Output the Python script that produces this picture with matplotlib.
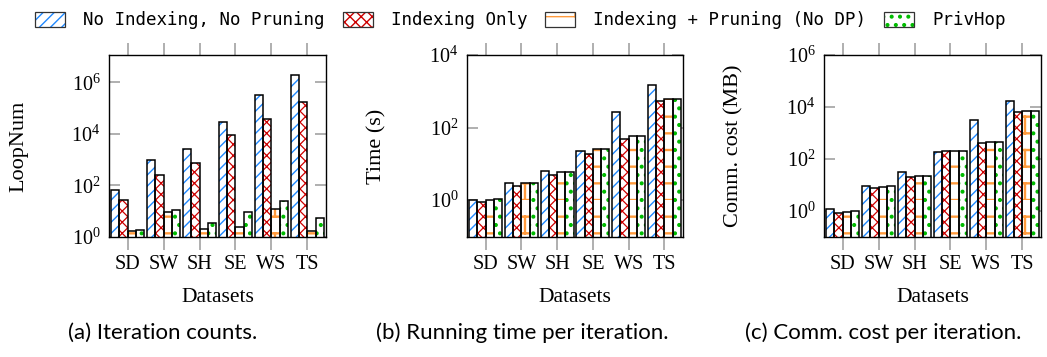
import matplotlib
matplotlib.use("Agg")
import matplotlib.pyplot as plt
import matplotlib.hatch as mhatch
from matplotlib.path import Path
from matplotlib.patches import Patch
from matplotlib.legend_handler import HandlerTuple
import numpy as np

datasets = ["SD", "SW", "SH", "SE", "WS", "TS"]
series = ["No Indexing, No Pruning", "Indexing Only", "Indexing + Pruning (No DP)", "PrivHop"]

loopnum_noidx = [64, 930, 2630, 29000, 3.1e5, 2.0e6]
loopnum_idx = [27, 258, 755, 9400, 37000, 1.78e5]
loopnum_prune = [1.76, 9.3, 2.0, 2.5, 12, 1.7]
loopnum_privhop = [1.87, 11, 3.4, 9.0, 26, 5.4]

time_noidx = [0.98, 2.87, 6.2, 21.8, 264, 1520]
time_idx = [0.86, 2.43, 4.77, 18.5, 47.7, 529]
time_prune = [1.02, 2.87, 5.8, 25.3, 56.6, 625]
time_privhop = [1.04, 2.87, 5.8, 25.3, 56.6, 625]

comm_noidx = [1.16, 8.9, 30.6, 181, 3170, 17000]
comm_idx = [0.79, 7.4, 19.7, 196, 400, 6400]
comm_prune = [0.86, 8.4, 21.6, 203, 464, 7200]
comm_privhop = [0.94, 8.9, 21.6, 203, 464, 7200]

colors = ["#1E88FF", "#CC0000", "#FF9A3C", "#00BB00"]
hatches = ["///", "xxx", "+", ".."]
hatch_lw = [1.0, 0.9, 1.7, 1.0]


# ---- custom hatch patterns: bricks (for '+') and larger dots (for '.') ----
class BrickHatch(mhatch.HatchPatternBase):
    def __init__(self, hatch, density):
        self.num_rows = hatch.count('+') * density
        self.num_vertices = self.num_rows * 4 if self.num_rows else 0

    def set_vertices_and_codes(self, vertices, codes):
        n = self.num_rows
        h = 1.0 / n
        v = []
        for k in range(n):
            y = k * h
            v += [(0.0, y), (1.0, y)]
            xo = 0.25 if k % 2 == 0 else 0.75
            v += [(xo, y), (xo, y + h)]
        vertices[:] = np.array(v)
        codes[0::2] = Path.MOVETO
        codes[1::2] = Path.LINETO


class BigDots(mhatch.Circles):
    size = 0.16
    filled = True

    def __init__(self, hatch, density):
        self.num_rows = hatch.count('.') * density
        super().__init__(hatch, density)


mhatch._hatch_types = [mhatch.NorthEastHatch, mhatch.SouthEastHatch,
                       BrickHatch, BigDots]

plt.rcParams["font.family"] = "Liberation Serif"
plt.rcParams["mathtext.fontset"] = "custom"
plt.rcParams["mathtext.rm"] = "Liberation Serif"
plt.rcParams["mathtext.it"] = "Liberation Serif:italic"

fig = plt.figure(figsize=(10.47, 3.57), dpi=100)

W = 1047.0
H = 357.0
def axrect(l, r, t, b):
    return [l / W, 1 - b / H, (r - l) / W, (b - t) / H]

ax_a = fig.add_axes(axrect(109, 326, 55, 237))
ax_b = fig.add_axes(axrect(467, 683, 55, 237))
ax_c = fig.add_axes(axrect(824, 1041, 55, 237))

panels = [
    (ax_a, [loopnum_noidx, loopnum_idx, loopnum_prune, loopnum_privhop], "LoopNum",
     (1, 10 ** 7.06), [0, 2, 4, 6], "(a) Iteration counts.", 163),
    (ax_b, [time_noidx, time_idx, time_prune, time_privhop], "Time (s)",
     (10 ** -1.02, 1e4), [0, 2, 4], "(b) Running time per iteration.", 522),
    (ax_c, [comm_noidx, comm_idx, comm_prune, comm_privhop], "Comm. cost (MB)",
     (10 ** -1.01, 1e6), [0, 2, 4, 6], "(c) Comm. cost per iteration.", 883),
]

x = np.arange(len(datasets))
w = 0.232
tick_gray = "#9a9a9a"

for ax, vals, ylabel, ylim, yexp, caption, cx in panels:
    ax.set_yscale("log")
    for j, v in enumerate(vals):
        pos = x + (j - 1.5) * w
        with plt.rc_context({"hatch.linewidth": hatch_lw[j]}):
            ax.bar(pos, v, width=w, color="white", edgecolor=colors[j], hatch=hatches[j],
                   linewidth=0, zorder=2)
        ax.bar(pos, v, width=w, fill=False, edgecolor="black", linewidth=1.1, zorder=3)
    ax.set_xlim(-0.52, 5.52)
    ax.set_ylim(*ylim)
    ax.set_xticks(x, datasets)
    ax.set_yticks([10.0 ** e for e in yexp], [r"$10^{%d}$" % e for e in yexp])
    ax.minorticks_off()
    ax.tick_params(axis="x", direction="out", top=True, length=9, width=1.1,
                   color=tick_gray, labelsize=14.5, pad=4)
    ax.tick_params(axis="y", direction="in", right=True, length=8, width=1.1,
                   color=tick_gray, labelsize=14.5, pad=6)
    for s in ax.spines.values():
        s.set_linewidth(1.0)
        s.set_color("black")
    ax.set_ylabel(ylabel, fontsize=16, labelpad=31)
    ax.set_xlabel("Datasets", fontsize=15.5, labelpad=10)
    fig.text(cx / W, 1 - 333 / H, caption, ha="center", va="center",
             fontsize=16, family="Lato")

handles = []
for j in range(4):
    with plt.rc_context({"hatch.linewidth": hatch_lw[j]}):
        p1 = Patch(facecolor="white", edgecolor=colors[j], hatch=hatches[j], linewidth=0)
    p2 = Patch(fill=False, edgecolor="#333333", linewidth=0.9)
    handles.append((p1, p2))

fig.legend(handles, series, loc="upper center", bbox_to_anchor=(0.497, 1.0), ncol=4,
           frameon=False, prop={"family": "DejaVu Sans Mono", "size": 12.6},
           handler_map={tuple: HandlerTuple(ndivide=1, pad=0)},
           handlelength=1.71, handleheight=0.91, handletextpad=1.03, columnspacing=1.03,
           borderaxespad=0.25)

fig.savefig("out.png", dpi=100)
